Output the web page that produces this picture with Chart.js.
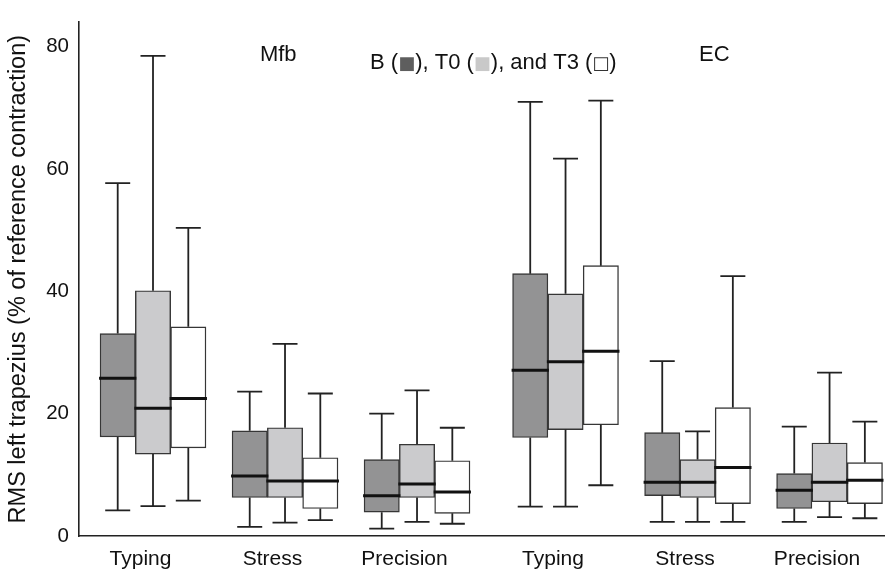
<!DOCTYPE html>
<html><head><meta charset="utf-8">
<script src="https://cdn.jsdelivr.net/npm/chart.js@4.4.1/dist/chart.umd.min.js"></script>
<style>html,body{margin:0;padding:0;background:#fff}</style>
</head><body>
<canvas id="c" width="885" height="575"></canvas>
<script>
// ---- data ----
const categories = ['Typing', 'Stress', 'Precision', 'Typing', 'Stress', 'Precision'];
const yTickValues = [0, 20, 40, 60, 80];
const seriesNames = ['B', 'T0', 'T3'];

const B_min = [4.2, 1.5, 1.2, 4.8, 2.3, 2.3];
const B_q1  = [16.2, 6.3, 3.9, 16.1, 6.6, 4.5];
const B_med = [25.8, 9.8, 6.6, 27.1, 8.8, 7.5];
const B_q3  = [33.1, 17.2, 12.5, 42.9, 16.9, 10.2];
const B_max = [57.7, 23.6, 20.0, 71.0, 28.6, 17.9];

const T0_min = [4.9, 2.2, 2.3, 4.8, 2.3, 3.1];
const T0_q1  = [13.4, 6.3, 6.3, 17.4, 6.3, 5.6];
const T0_med = [20.9, 9.0, 8.5, 28.5, 8.8, 8.8];
const T0_q3  = [40.1, 17.7, 15.0, 39.6, 12.5, 15.2];
const T0_max = [78.5, 31.4, 23.8, 61.7, 17.1, 26.7];

const T3_min = [5.8, 2.6, 2.0, 8.3, 2.3, 2.9];
const T3_q1  = [14.4, 4.5, 3.7, 18.2, 5.3, 5.3];
const T3_med = [22.5, 9.0, 7.2, 30.2, 11.2, 9.1];
const T3_q3  = [34.2, 12.8, 12.3, 44.2, 21.0, 12.0];
const T3_max = [50.4, 23.3, 17.7, 71.2, 42.5, 18.7];

// ---- layout helpers ----
const GROUP_GAP = 0.125;               // extra space between Mfb and EC blocks
const groupPos = categories.map((c, i) => i + (i >= 3 ? GROUP_GAP : 0));
const FONT = "'Liberation Sans', Arial, Helvetica, sans-serif";
const fills = ['#939394', '#cbcbcd', '#ffffff'];

const stats = [
  {min: B_min, q1: B_q1, med: B_med, q3: B_q3, max: B_max},
  {min: T0_min, q1: T0_q1, med: T0_med, q3: T0_q3, max: T0_max},
  {min: T3_min, q1: T3_q1, med: T3_med, q3: T3_q3, max: T3_max}
];

const datasets = stats.map((s, k) => ({
  label: seriesNames[k],
  data: groupPos.map((x, i) => ({x: x, y: [s.q1[i], s.q3[i]]})),
  stats: s,
  backgroundColor: fills[k],
  borderColor: '#363636',
  borderWidth: 1.4,
  borderSkipped: false,
  barThickness: 35.3
}));

const boxPlugin = {
  id: 'boxWhiskers',
  afterDatasetsDraw(chart) {
    const ctx = chart.ctx, ys = chart.scales.y;
    const cap = 25;
    chart.data.datasets.forEach((ds, di) => {
      const meta = chart.getDatasetMeta(di);
      const s = ds.stats;
      meta.data.forEach((el, i) => {
        const x = el.x, w = el.width;
        const pMin = ys.getPixelForValue(s.min[i]);
        const pQ1 = ys.getPixelForValue(s.q1[i]);
        const pMed = ys.getPixelForValue(s.med[i]);
        const pQ3 = ys.getPixelForValue(s.q3[i]);
        const pMax = ys.getPixelForValue(s.max[i]);
        ctx.save();
        ctx.strokeStyle = '#222';
        ctx.lineWidth = 1.8;
        ctx.beginPath();
        ctx.moveTo(x, pQ3); ctx.lineTo(x, pMax);
        ctx.moveTo(x - cap / 2, pMax); ctx.lineTo(x + cap / 2, pMax);
        ctx.moveTo(x, pQ1); ctx.lineTo(x, pMin);
        ctx.moveTo(x - cap / 2, pMin); ctx.lineTo(x + cap / 2, pMin);
        ctx.stroke();
        ctx.strokeStyle = '#111';
        ctx.lineWidth = 3;
        ctx.beginPath();
        ctx.moveTo(x - w / 2 - 1, pMed); ctx.lineTo(x + w / 2 + 1, pMed);
        ctx.stroke();
        ctx.restore();
      });
    });
  }
};

// annotation texts, anchored in scale units
const annotations = [
  {text: 'Mfb', x: 0.81, y: 77.65},
  {text: 'EC', x: 4.136, y: 77.65}
];
const legendParts = [
  {t: 'B ('}, {sq: '■', color: '#5e5e5e'}, {t: '), T0 ('}, {sq: '■', color: '#c9c9c9'},
  {t: '), and T3 ('}, {sq: '□', color: '#333'}, {t: ')'}
];
const legendAnchor = {x: 1.644, y: 76.4};

const textPlugin = {
  id: 'texts',
  afterDraw(chart) {
    const ctx = chart.ctx, xs = chart.scales.x, ys = chart.scales.y;
    ctx.save();
    ctx.fillStyle = '#111';
    ctx.textBaseline = 'alphabetic';
    ctx.textAlign = 'left';
    ctx.font = '22px ' + FONT;
    annotations.forEach(a => {
      ctx.fillText(a.text, xs.getPixelForValue(a.x), ys.getPixelForValue(a.y));
    });
    let px = xs.getPixelForValue(legendAnchor.x);
    const py = ys.getPixelForValue(legendAnchor.y);
    legendParts.forEach(p => {
      if (p.t) {
        ctx.font = '22px ' + FONT;
        ctx.fillStyle = '#111';
        ctx.fillText(p.t, px, py);
        px += ctx.measureText(p.t).width;
      } else {
        ctx.font = '18px "DejaVu Sans", ' + FONT;
        ctx.fillStyle = p.color;
        ctx.fillText(p.sq, px, py);
        px += ctx.measureText(p.sq).width;
      }
    });
    ctx.restore();
  }
};

new Chart(document.getElementById('c'), {
  type: 'bar',
  data: {datasets: datasets},
  plugins: [boxPlugin, textPlugin],
  options: {
    responsive: false,
    animation: false,
    layout: {padding: {top: 7, right: 0, bottom: 0, left: 0}},
    plugins: {legend: {display: false}, tooltip: {enabled: false}, title: {display: false}},
    scales: {
      x: {
        type: 'linear',
        offset: false,
        min: -0.5606,
        max: 5.545,
        grid: {display: false, drawTicks: false},
        border: {display: true, color: '#222', width: 1.6},
        afterBuildTicks: (axis) => { axis.ticks = groupPos.map(v => ({value: v})); },
        afterFit: (axis) => { axis.height = 39; },
        ticks: {
          autoSkip: false,
          maxRotation: 0,
          padding: 11,
          labelOffset: -12.5,
          color: '#111',
          font: {family: FONT, size: 21},
          callback: (v, i) => categories[i]
        }
      },
      y: {
        type: 'linear',
        min: 0,
        max: 84,
        grid: {display: false, drawTicks: false},
        border: {display: true, color: '#222', width: 1.6},
        afterBuildTicks: (axis) => { axis.ticks = yTickValues.map(v => ({value: v})); },
        afterFit: (axis) => { axis.width = 79; },
        ticks: {
          padding: 10,
          color: '#111',
          font: {family: FONT, size: 20.5},
          callback: (v) => String(v)
        },
        title: {
          display: true,
          text: 'RMS left trapezius (% of reference contraction)',
          color: '#111',
          font: {family: FONT, size: 23.5},
          padding: {top: 4, bottom: 0}
        }
      }
    }
  }
});
</script>
</body></html>
